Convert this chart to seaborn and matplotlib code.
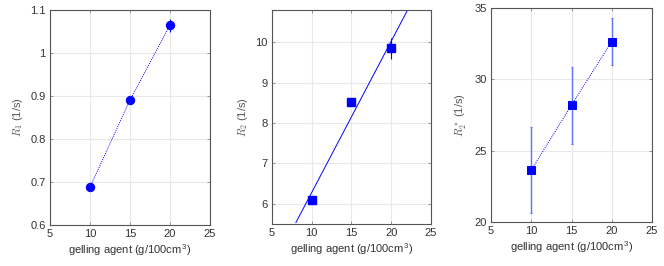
import matplotlib
matplotlib.use("Agg")
import matplotlib.pyplot as plt
import seaborn as sns
import numpy as np

# data
gelling = [10, 15, 20]
r1 = [0.688, 0.891, 1.065]
r1_err = [0.006, 0.008, 0.015]
r2 = [6.10, 8.52, 9.85]
r2_err = [0.05, 0.08, 0.25]
r2s = [23.65, 28.2, 32.65]
r2s_err = [3.0, 2.7, 1.65]

sns.set_theme(style="whitegrid")
plt.rcParams["font.family"] = ["Liberation Sans", "DejaVu Sans"]
plt.rcParams["mathtext.fontset"] = "cm"

fig = plt.figure(figsize=(6.64, 2.66), dpi=100)
ax1 = fig.add_axes([0.0753, 0.154, 0.241, 0.808])
ax2 = fig.add_axes([0.4096, 0.158, 0.2395, 0.804])
ax3 = fig.add_axes([0.7395, 0.165, 0.2425, 0.805])

blue = (0, 0, 1)
xlabel = "gelling agent (g/100cm$^\\mathregular{3}$)"


def style(ax, ylim, yticks, ylabel):
    ax.set_xlim(5, 25)
    ax.set_xticks([5, 10, 15, 20, 25])
    ax.set_ylim(*ylim)
    ax.set_yticks(yticks)
    ax.set_xlabel(xlabel, fontsize=8, color="#333333", labelpad=2)
    ax.set_ylabel(ylabel, fontsize=8, color="#555555", labelpad=4)
    ax.tick_params(labelsize=8, labelcolor="#333333", color="#888888",
                   direction="in", length=2, width=0.6, pad=3,
                   left=True, bottom=True, right=True, top=True)
    ax.grid(True, color="#e8e8e8", linewidth=0.8)
    for s in ax.spines.values():
        s.set_color("#555555")
        s.set_linewidth(0.8)


# panel 1: R1
ax1.errorbar(gelling, r1, yerr=r1_err, fmt="none", ecolor=blue, elinewidth=0.8)
sns.lineplot(x=gelling, y=r1, ax=ax1, color=blue, linestyle=(0, (1, 1.2)),
             linewidth=0.7, marker="o", markersize=6, markeredgecolor=blue,
             alpha=1)
style(ax1, (0.6, 1.1), [0.6, 0.7, 0.8, 0.9, 1.0, 1.1], "$R_1$ (1/s)")
ax1.set_yticklabels(["0.6", "0.7", "0.8", "0.9", "1", "1.1"])

# panel 2: R2 with linear fit
style(ax2, (5.5, 10.8), [6, 7, 8, 9, 10], "$R_2$ (1/s)")
ax2.set_xlim(8, 22.05)
sns.regplot(x=gelling, y=r2, ax=ax2, ci=None, truncate=False, scatter=False,
            color=blue, line_kws={"linewidth": 0.7})
ax2.set_xlim(5, 25)
ax2.errorbar(gelling, r2, yerr=r2_err, fmt="s", color=blue, markersize=5.5,
             elinewidth=0.8, capsize=0)

# panel 3: R2*
ax3.errorbar(gelling, r2s, yerr=r2s_err, fmt="none", ecolor=(0.35, 0.45, 1.0),
             elinewidth=1.0, capsize=1, capthick=0.8)
sns.lineplot(x=gelling, y=r2s, ax=ax3, color=blue, linestyle=(0, (1, 1.2)),
             linewidth=0.7, marker="s", markersize=6, markeredgecolor=blue,
             alpha=1)
style(ax3, (20, 35), [20, 25, 30, 35], "$R_2^*$ (1/s)")

fig.savefig("out.png", dpi=100)
